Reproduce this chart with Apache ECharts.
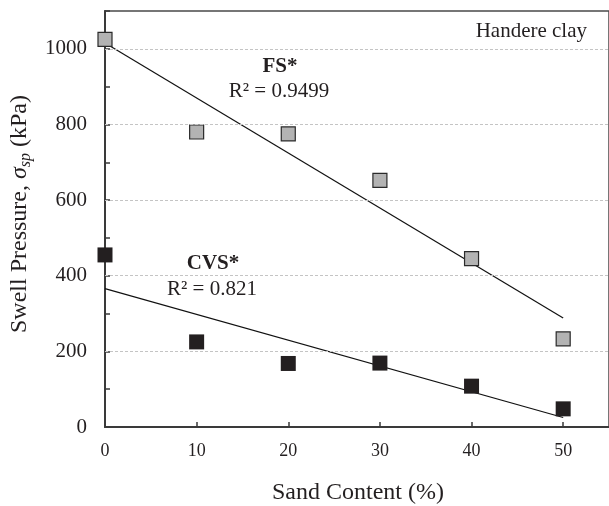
<!DOCTYPE html>
<html>
<head>
<meta charset="utf-8">
<script src="https://cdn.jsdelivr.net/npm/echarts@6/dist/echarts.min.js"></script>
<style>
  html, body { margin: 0; padding: 0; background: #fff; }
  #chart { width: 609px; height: 506px; }
</style>
</head>
<body>
<div id="chart"></div>
<script>
// Sand content (%) of each mixture
const sandContent = [0, 10, 20, 30, 40, 50];
// Swell pressure (kPa) for fine sand (FS) and coarse/very coarse sand (CVS) mixtures
const fsPressure = [1025, 780, 775, 652, 445, 233];
const cvsPressure = [455, 225, 168, 169, 108, 48];
// Horizontal reference lines
const gridValues = [200, 400, 600, 800, 1000];

const FONT = '"Liberation Serif", "Times New Roman", serif';
const INK = '#231f20';

// Least-squares straight line through a series, returned as its two end points
function linearFit(xs, ys) {
  const n = xs.length;
  const mx = xs.reduce((a, b) => a + b, 0) / n;
  const my = ys.reduce((a, b) => a + b, 0) / n;
  let sxy = 0, sxx = 0;
  for (let i = 0; i < n; i++) {
    sxy += (xs[i] - mx) * (ys[i] - my);
    sxx += (xs[i] - mx) * (xs[i] - mx);
  }
  const slope = sxy / sxx;
  const icpt = my - slope * mx;
  const x0 = xs[0], x1 = xs[n - 1];
  return [[x0, icpt + slope * x0], [x1, icpt + slope * x1]];
}

const pairs = (ys) => sandContent.map((x, i) => [x, ys[i]]);

const chart = echarts.init(document.getElementById('chart'), null, { renderer: 'canvas' });

chart.setOption({
  backgroundColor: '#fff',
  animation: false,
  grid: {
    left: 105, right: -2, top: 11, bottom: 79,
    show: true, borderColor: '#4a4a4a', borderWidth: 1.5, backgroundColor: 'transparent'
  },
  xAxis: {
    type: 'value', min: 0, max: 55, interval: 10,
    axisLine: { show: true, onZero: false, lineStyle: { color: '#3a3a3a', width: 2 } },
    axisTick: { show: true, inside: true, length: 5, lineStyle: { color: '#3a3a3a', width: 1.5 } },
    axisLabel: { color: INK, fontFamily: FONT, fontSize: 18, margin: 15, showMaxLabel: false },
    splitLine: { show: false }
  },
  yAxis: {
    type: 'value', min: 0, max: 1100, interval: 100,
    axisLine: { show: true, onZero: false, lineStyle: { color: '#3a3a3a', width: 2 } },
    axisTick: { show: true, inside: true, length: 5, lineStyle: { color: '#3a3a3a', width: 1.5 } },
    axisLabel: {
      color: INK, fontFamily: FONT, fontSize: 21, margin: 18,
      formatter: (v) => (v % 200 === 0 && v <= 1000 ? String(v) : '')
    },
    splitLine: { show: false }
  },
  graphic: [
    { type: 'text', x: 587, y: 31, style: { text: 'Handere clay', font: '21px ' + FONT, fill: INK, align: 'right', verticalAlign: 'middle' } },
    { type: 'text', x: 280, y: 67, style: { text: 'FS*', font: 'bold 21px ' + FONT, fill: INK, align: 'center', verticalAlign: 'middle' } },
    { type: 'text', x: 279, y: 91, style: { text: 'R² = 0.9499', font: '21px ' + FONT, fill: INK, align: 'center', verticalAlign: 'middle' } },
    { type: 'text', x: 213, y: 264, style: { text: 'CVS*', font: 'bold 21px ' + FONT, fill: INK, align: 'center', verticalAlign: 'middle' } },
    { type: 'text', x: 212, y: 289, style: { text: 'R² = 0.821', font: '21px ' + FONT, fill: INK, align: 'center', verticalAlign: 'middle' } },
    { type: 'text', x: 358, y: 493, style: { text: 'Sand Content (%)', font: '24px ' + FONT, fill: INK, align: 'center', verticalAlign: 'middle' } },
    {
      type: 'text', x: 20, y: 214, rotation: Math.PI / 2,
      style: {
        text: '{n|Swell Pressure, }{i|σ}{s|sp}{n| (kPa)}',
        align: 'center', verticalAlign: 'middle',
        rich: {
          n: { fontFamily: FONT, fontSize: 24, fill: INK },
          i: { fontFamily: FONT, fontSize: 24, fontStyle: 'italic', fill: INK },
          s: { fontFamily: FONT, fontSize: 16, fontStyle: 'italic', fill: INK, padding: [12, 0, 0, 0] }
        }
      }
    }
  ],
  series: [
    {
      name: 'grid', type: 'line', data: [], silent: true,
      markLine: {
        symbol: 'none', silent: true, label: { show: false },
        lineStyle: { color: '#c4c4c4', type: [3, 2], width: 1 },
        data: gridValues.map((v) => ({ yAxis: v }))
      }
    },
    {
      name: 'FS fit', type: 'line', data: linearFit(sandContent, fsPressure),
      showSymbol: false, lineStyle: { color: '#111', width: 1.2 }, z: 3
    },
    {
      name: 'CVS fit', type: 'line', data: linearFit(sandContent, cvsPressure),
      showSymbol: false, lineStyle: { color: '#111', width: 1.2 }, z: 3
    },
    {
      name: 'FS*', type: 'scatter', data: pairs(fsPressure),
      symbol: 'rect', symbolSize: 14, z: 4,
      itemStyle: { color: '#b3b3b3', borderColor: '#2a2a2a', borderWidth: 1.2, opacity: 1 }
    },
    {
      name: 'CVS*', type: 'scatter', data: pairs(cvsPressure),
      symbol: 'rect', symbolSize: 15, z: 4,
      itemStyle: { color: INK, opacity: 1 }
    }
  ]
});
</script>
</body>
</html>
